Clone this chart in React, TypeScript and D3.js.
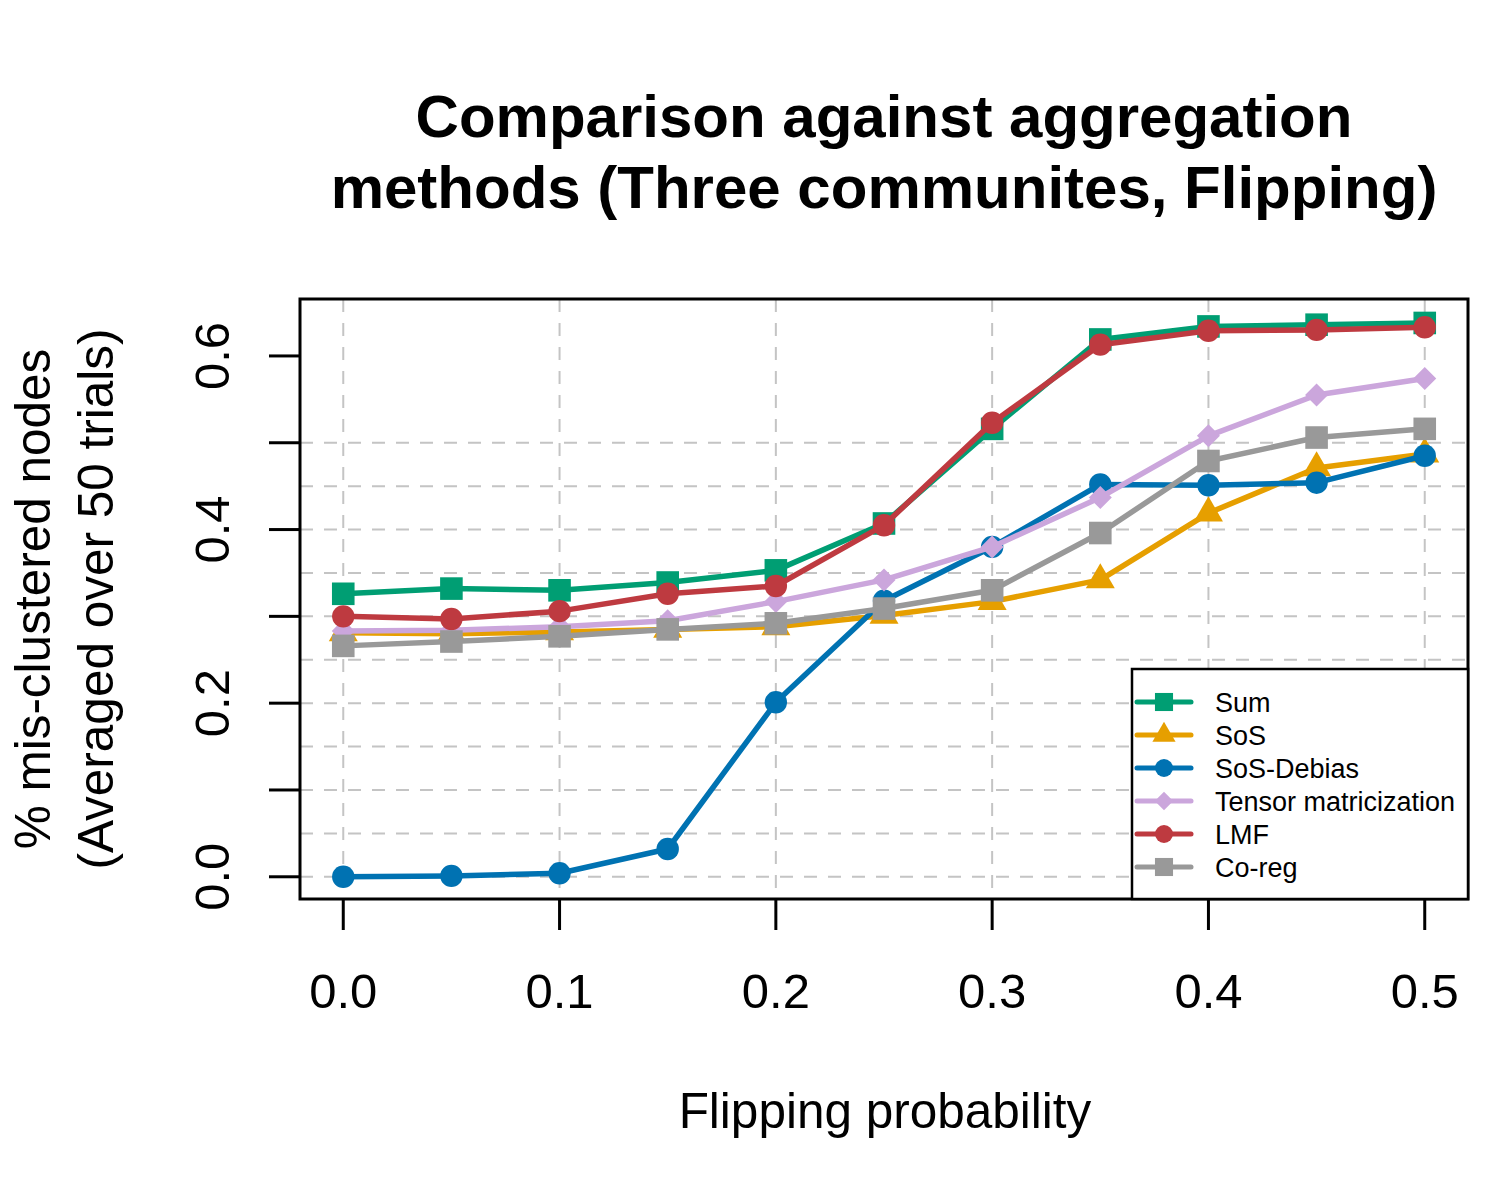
import React from "react";
import * as d3 from "d3";

// flipping probability (x) and mis-clustering rate per method
const probs = [0, 0.05, 0.1, 0.15, 0.2, 0.25, 0.3, 0.35, 0.4, 0.45, 0.5];
const sumVals = [0.326, 0.332, 0.33, 0.339, 0.353, 0.407, 0.516, 0.619, 0.634, 0.636, 0.638];
const sosVals = [0.281, 0.28, 0.282, 0.285, 0.288, 0.301, 0.317, 0.342, 0.419, 0.471, 0.487];
const sosDebiasVals = [0.0, 0.001, 0.004, 0.032, 0.201, 0.318, 0.38, 0.452, 0.451, 0.454, 0.485];
const tensorVals = [0.283, 0.284, 0.288, 0.295, 0.317, 0.342, 0.38, 0.437, 0.508, 0.555, 0.574];
const lmfVals = [0.3, 0.297, 0.306, 0.326, 0.335, 0.405, 0.523, 0.613, 0.629, 0.63, 0.633];
const coregVals = [0.266, 0.271, 0.277, 0.285, 0.292, 0.309, 0.33, 0.396, 0.479, 0.506, 0.516];

const seriesNames = ["Sum", "SoS", "SoS-Debias", "Tensor matricization", "LMF", "Co-reg"];
const seriesColors = ["#009E73", "#E69F00", "#0072B2", "#CBA6DC", "#BE3A40", "#999999"];
const seriesShapes = ["square", "triangle", "circle", "diamond", "circle", "square"];
const seriesValues = [sumVals, sosVals, sosDebiasVals, tensorVals, lmfVals, coregVals];

const xTicks = [0, 0.1, 0.2, 0.3, 0.4, 0.5];
const yTicks = [0, 0.1, 0.2, 0.3, 0.4, 0.5, 0.6];
const yLabelTicks = [0, 0.2, 0.4, 0.6];
const yGrid = d3.range(0, 0.5001, 0.05);

const W = 1500;
const H = 1200;
const left = 300;
const right = 1468;
const top = 299;
const bottom = 899;
const font = "'Liberation Sans', Arial, Helvetica, sans-serif";

const pad = (lo: number, hi: number) => [lo - 0.04 * (hi - lo), hi + 0.04 * (hi - lo)];
const x = d3.scaleLinear().domain(pad(0, 0.5)).range([left, right]);
const y = d3.scaleLinear().domain(pad(0, 0.64)).range([bottom, top]);

function marker(shape: string, cx: number, cy: number, k: number) {
  if (shape === "square") {
    const h = 11.3 * k;
    return `M${cx - h},${cy - h}h${2 * h}v${2 * h}h${-2 * h}Z`;
  }
  if (shape === "triangle") {
    const xc = 14.5 * k;
    const r = 16.7 * k;
    return `M${cx},${cy - r}L${cx + xc},${cy + r / 2}L${cx - xc},${cy + r / 2}Z`;
  }
  if (shape === "diamond") {
    const h = 11.5 * k;
    return `M${cx},${cy - h}L${cx + h},${cy}L${cx},${cy + h}L${cx - h},${cy}Z`;
  }
  const r = 11.2 * k;
  return `M${cx - r},${cy}a${r},${r} 0 1,0 ${2 * r},0a${r},${r} 0 1,0 ${-2 * r},0Z`;
}

const App: React.FC = () => {
  const line = d3
    .line<number>()
    .x((_, i) => x(probs[i]))
    .y((d) => y(d));

  const legX = 1132;
  const legY = 669;
  const rowY = (i: number) => 702 + i * 33;

  return (
    <svg
      width={W}
      height={H}
      style={{ position: "absolute", left: 0, top: 0, background: "#fff" }}
      fontFamily={font}
    >
      <rect width={W} height={H} fill="#fff" />

      {/* title */}
      <text x={884} y={137} fontSize={60} fontWeight="bold" textAnchor="middle">
        Comparison against aggregation
      </text>
      <text x={884} y={208} fontSize={60} fontWeight="bold" textAnchor="middle">
        methods (Three communites, Flipping)
      </text>

      {/* grid */}
      <g stroke="#C4C4C4" strokeWidth={2} strokeDasharray="13,11" fill="none">
        {xTicks.map((t) => (
          <line key={"gx" + t} x1={x(t)} x2={x(t)} y1={top} y2={bottom} />
        ))}
        {yGrid.map((t) => (
          <line key={"gy" + t} x1={left} x2={right} y1={y(t)} y2={y(t)} />
        ))}
      </g>

      {/* series */}
      {seriesValues.map((vals, si) => (
        <g key={seriesNames[si]}>
          <path
            d={line(vals) || ""}
            fill="none"
            stroke={seriesColors[si]}
            strokeWidth={5.5}
            strokeLinejoin="round"
            strokeLinecap="round"
          />
          {vals.map((v, i) => (
            <path key={i} d={marker(seriesShapes[si], x(probs[i]), y(v), 1)} fill={seriesColors[si]} />
          ))}
        </g>
      ))}

      {/* box */}
      <rect x={left} y={top} width={right - left} height={bottom - top} fill="none" stroke="#000" strokeWidth={3} />

      {/* axes */}
      <g stroke="#000" strokeWidth={3}>
        {xTicks.map((t) => (
          <line key={"xt" + t} x1={x(t)} x2={x(t)} y1={bottom} y2={bottom + 31} />
        ))}
        {yTicks.map((t) => (
          <line key={"yt" + t} x1={left} x2={left - 31} y1={y(t)} y2={y(t)} />
        ))}
      </g>
      {xTicks.map((t) => (
        <text key={"xl" + t} x={x(t)} y={1008} fontSize={49} textAnchor="middle">
          {d3.format(".1f")(t)}
        </text>
      ))}
      {yLabelTicks.map((t) => (
        <text
          key={"yl" + t}
          transform={`translate(229,${y(t)}) rotate(-90)`}
          fontSize={49}
          textAnchor="middle"
        >
          {d3.format(".1f")(t)}
        </text>
      ))}

      {/* axis titles */}
      <text x={885} y={1128} fontSize={49.5} textAnchor="middle">
        Flipping probability
      </text>
      <text transform={`translate(50,599) rotate(-90)`} fontSize={49.5} textAnchor="middle">
        % mis-clustered nodes
      </text>
      <text transform={`translate(113,599) rotate(-90)`} fontSize={49.5} textAnchor="middle">
        (Averaged over 50 trials)
      </text>

      {/* legend */}
      <rect x={legX} y={legY} width={right - legX} height={bottom - legY} fill="#fff" stroke="#000" strokeWidth={2.5} />
      {seriesNames.map((name, i) => (
        <g key={"leg" + name}>
          <line
            x1={1137}
            x2={1191}
            y1={rowY(i)}
            y2={rowY(i)}
            stroke={seriesColors[i]}
            strokeWidth={5}
            strokeLinecap="round"
          />
          <path d={marker(seriesShapes[i], 1164, rowY(i), 0.8)} fill={seriesColors[i]} />
          <text x={1215} y={rowY(i) + 9.5} fontSize={27}>
            {name}
          </text>
        </g>
      ))}
    </svg>
  );
};

export default App;
